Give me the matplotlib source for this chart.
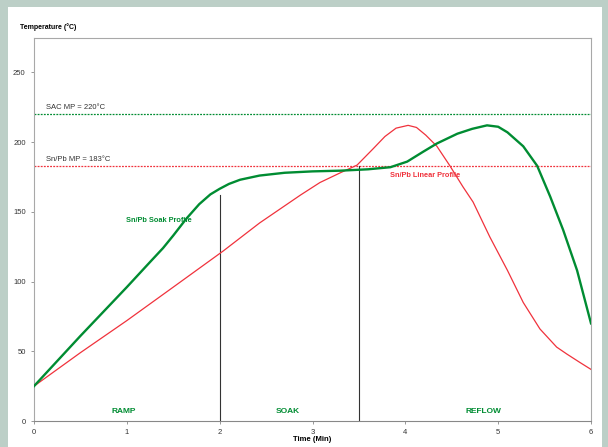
import matplotlib
matplotlib.use("Agg")
import matplotlib.pyplot as plt
from matplotlib.patches import Rectangle

plt.rcParams['font.family'] = ['Liberation Sans', 'DejaVu Sans']

# Sn/Pb soak profile (green)
soak_t = [0, 0.5, 1.0, 1.25, 1.39, 1.5, 1.64, 1.78, 1.9, 2.0, 2.1, 2.22, 2.43, 2.7, 3.0,
          3.3, 3.6, 3.84, 4.02, 4.19, 4.34, 4.56, 4.72, 4.88, 5.0, 5.1, 5.27, 5.42, 5.56,
          5.7, 5.85, 6.0]
soak_v = [25, 61, 96, 114, 124, 133, 145, 155.5, 162.5, 166.5, 170, 173, 176, 178, 179,
          179.5, 180.5, 182, 186, 193, 199, 206, 209.5, 212, 211, 207, 197, 183, 161,
          137, 108, 70]

# Sn/Pb linear profile (red)
lin_t = [0, 0.5, 1.0, 1.5, 2.04, 2.43, 2.87, 3.08, 3.3, 3.48, 3.65, 3.78, 3.9, 4.03,
         4.12, 4.22, 4.34, 4.48, 4.62, 4.73, 4.91, 5.1, 5.27, 5.45, 5.63, 5.74, 5.88, 6.0]
lin_v = [25, 49, 72, 96, 122, 142, 162, 171, 178, 183.5, 195, 204, 210, 212,
         210.5, 205, 197, 183, 168, 157, 132, 108, 85, 66, 53, 48, 42, 37]

sac_mp = 220
snpb_mp = 183
soak_end = (2.0, 162)
reflow_start = (3.5, 183)
phases = ["RAMP", "SOAK", "REFLOW"]
phase_x = [0.97, 2.73, 4.84]

green = "#008c32"
red = "#f0323c"

fig = plt.figure(figsize=(6.08, 4.47), dpi=100, facecolor="#bccfc7")
fig.patches.append(Rectangle((8 / 608, 0), 594 / 608, 440 / 447, transform=fig.transFigure,
                             facecolor="white", edgecolor="none", zorder=-10))
ax = fig.add_axes([34 / 608, 1 - 421 / 447, 557 / 608, 383.5 / 447])
ax.set_facecolor("white")

ax.plot(lin_t, lin_v, color=red, lw=0.9, zorder=3)
ax.plot(soak_t, soak_v, color=green, lw=1.7, zorder=4)

ax.axhline(sac_mp, color=green, lw=0.9, ls=(0, (1.5, 1)), zorder=2)
ax.axhline(snpb_mp, color=red, lw=0.9, ls=(0, (1.5, 1)), zorder=2)
ax.text(0.13, sac_mp + 2, "SAC MP = 220\u00b0C", fontsize=5.5, color="#333333", va="bottom")
ax.text(0.13, snpb_mp + 2, "Sn/Pb MP = 183\u00b0C", fontsize=5.5, color="#333333", va="bottom")

ax.plot([soak_end[0]] * 2, [0, soak_end[1]], color="#333333", lw=0.8, zorder=2)
ax.plot([reflow_start[0]] * 2, [0, reflow_start[1]], color="#333333", lw=0.8, zorder=2)

for name, x in zip(phases, phase_x):
    ax.text(x, 4, name, fontsize=6, color=green, fontweight="bold", ha="center", va="bottom")

ax.text(0.99, 144, "Sn/Pb Soak Profile", fontsize=5.3, color=green, fontweight="bold", va="center")
ax.text(3.84, 176, "Sn/Pb Linear Profile", fontsize=5.3, color=red, fontweight="bold", va="center")

ax.set_xlim(0, 6)
ax.set_ylim(0, 275)
ax.set_xticks(range(0, 7))
ax.set_yticks(range(0, 251, 50))
ax.tick_params(labelsize=5.5, colors="#333333", length=2.5, width=0.6, color="#888888")
for s in ax.spines.values():
    s.set_color("#a8a8a8")
    s.set_linewidth(0.8)
ax.spines['bottom'].set_color("#888888")

ax.set_xlabel("Time (Min)", fontsize=5.5, fontweight="bold", labelpad=0)
fig.text(20 / 608, 1 - 27 / 447, "Temperature (\u00b0C)", fontsize=5.0, fontweight="bold", va="center")

fig.savefig("out.png", dpi=100, facecolor=fig.get_facecolor())
